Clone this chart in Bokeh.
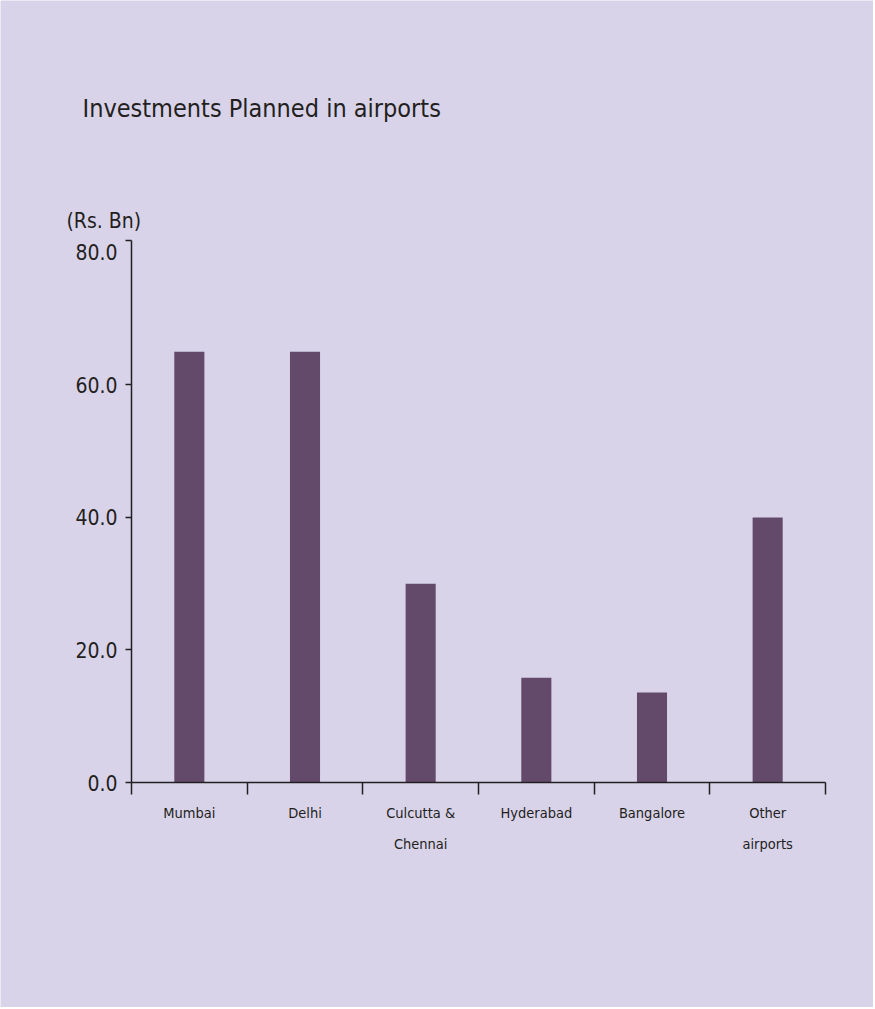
from bokeh.plotting import figure
from bokeh.models import Range1d, LinearAxis, FixedTicker, Label
from bokeh.embed import file_html
from bokeh.resources import INLINE

# ---- data ----
categories = ["Mumbai", "Delhi", "Culcutta &\nChennai", "Hyderabad", "Bangalore", "Other\nairports"]
investment = [65.0, 65.0, 30.0, 15.8, 13.6, 40.0]
y_ticks = [0, 20, 40, 60, 80]
y_tick_labels = ["0.0", "20.0", "40.0", "60.0", "80.0"]
y_max = 81.8
title_text = "Investments Planned in airports"
unit_text = "(Rs. Bn)"

# ---- style ----
BG = "#d9d3ea"
BAR = "#634a6a"
INK = "#231f20"
FONT = "DejaVu Sans Condensed"

W, H = 873, 1007
# pixel geometry of the axes inside the canvas
AX_LEFT, AX_RIGHT = 131, 825      # x pixel of category 0 and category end
AX_BOTTOM, AX_TOP = 782, 240      # y pixel of value 0 and of axis top
n = len(categories)
xs = (AX_RIGHT - AX_LEFT) / n
ys = (AX_BOTTOM - AX_TOP) / y_max
x_range = Range1d(-AX_LEFT / xs, n + (W - AX_RIGHT) / xs)
y_range = Range1d(-(H - AX_BOTTOM) / ys, AX_BOTTOM / ys)

positions = [i + 0.5 for i in range(n)]
boundaries = list(range(n + 1))

p = figure(width=W, height=H, output_backend="svg", toolbar_location=None,
           x_range=x_range, y_range=y_range,
           x_axis_type=None, y_axis_type=None, title_location=None,
           min_border=0,
           background_fill_color=BG, border_fill_color=BG,
           outline_line_color=None)
p.grid.visible = False

p.vbar(x=positions, top=investment, bottom=0, width=0.26,
       fill_color=BAR, line_color=None)

# x axis: labels at centres, ticks at category boundaries
xaxis = LinearAxis(ticker=FixedTicker(ticks=positions, minor_ticks=boundaries),
                   bounds=(0, n), fixed_location=0)
xaxis.major_label_overrides = {pos: cat for pos, cat in zip(positions, categories)}
xaxis.major_tick_out = 0
xaxis.major_tick_in = 0
xaxis.minor_tick_out = 12
xaxis.minor_tick_in = 0
xaxis.minor_tick_line_color = INK
xaxis.minor_tick_line_width = 1.5
xaxis.axis_line_color = INK
xaxis.axis_line_width = 1.5
xaxis.major_label_standoff = 10
xaxis.major_label_text_font = FONT
xaxis.major_label_text_font_size = "14.5px"
xaxis.major_label_text_color = INK
xaxis.major_label_text_line_height = 1.95
p.add_layout(xaxis, "below")

# y axis
yaxis = LinearAxis(ticker=FixedTicker(ticks=y_ticks, minor_ticks=y_ticks[:-1] + [y_max]),
                   bounds=(0, y_max), fixed_location=0)
yaxis.major_label_overrides = {t: s for t, s in zip(y_ticks, y_tick_labels)}
yaxis.major_tick_out = 0
yaxis.major_tick_in = 0
yaxis.minor_tick_out = 6
yaxis.minor_tick_in = 0
yaxis.minor_tick_line_color = INK
yaxis.minor_tick_line_width = 1.5
yaxis.axis_line_color = INK
yaxis.axis_line_width = 1.5
yaxis.major_label_standoff = 8
yaxis.major_label_text_font = FONT
yaxis.major_label_text_font_size = "21px"
yaxis.major_label_text_color = INK
p.add_layout(yaxis, "left")

# title and unit text (pixel anchors converted to data space)
p.add_layout(Label(x=(82 - AX_LEFT) / xs, y=(AX_BOTTOM - 108) / ys, text=title_text,
                   text_font=FONT, text_font_size="25px", text_color=INK,
                   text_align="left", text_baseline="alphabetic"))
p.add_layout(Label(x=(66 - AX_LEFT) / xs, y=(AX_BOTTOM - 220) / ys, text=unit_text,
                   text_font=FONT, text_font_size="21px", text_color=INK,
                   text_align="left", text_baseline="alphabetic"))

open("out.html", "w").write(file_html(p, INLINE))
